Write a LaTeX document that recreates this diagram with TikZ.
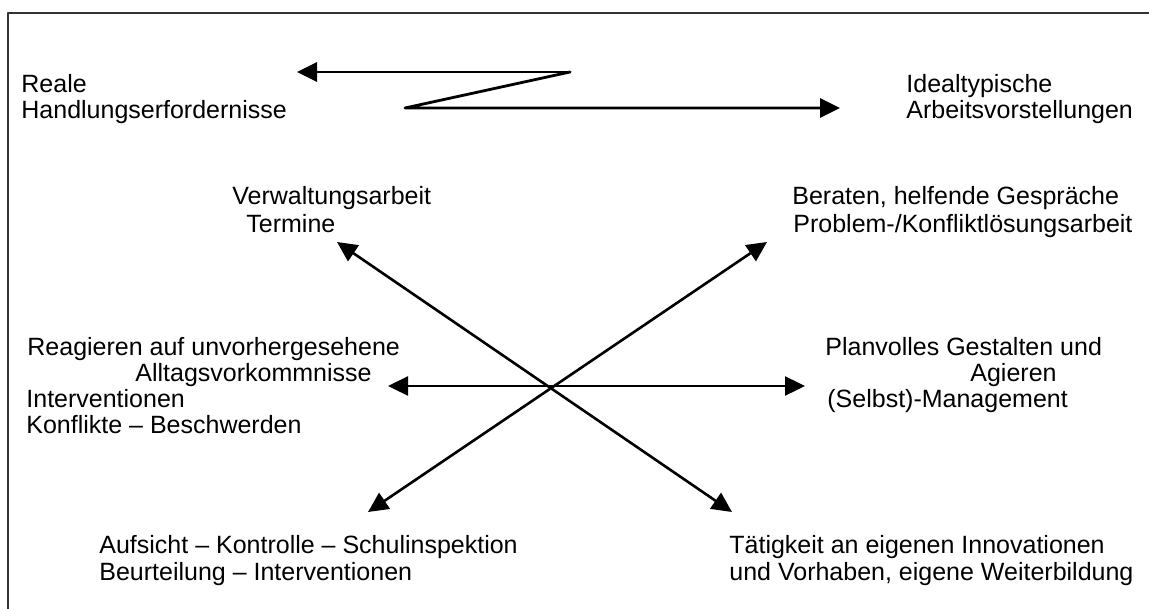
\documentclass[tikz,border=0pt]{standalone}
\usepackage{fontspec}
\setmainfont{Liberation Sans}
\usetikzlibrary{arrows.meta}

\tikzset{
  txt/.style={anchor=base west, inner sep=0pt, font=\fontsize{12.5}{14}\selectfont},
  pfeil/.style={-{Triangle[length=10pt, width=9.5pt]}, line width=1.4pt},
  doppelpfeil/.style={{Triangle[length=10pt, width=9.5pt]}-{Triangle[length=10pt, width=9.5pt]}, line width=1.3pt}
}

\begin{document}
\begin{tikzpicture}[line cap=round, line join=round, x=0.5pt, y=-0.5pt]
\useasboundingbox (0,0) rectangle (1149,609);
\draw [color=black!80, line width=0.8pt] (8,609) -- (8,13) -- (1149,13);

\node [txt] (reale1) at (21,93) {Reale};
\node [txt] (reale2) at (21,119) {Handlungserfordernisse};
\node [txt] (ideal1) at (906,93) {Idealtypische};
\node [txt] (ideal2) at (906,119) {Arbeitsvorstellungen};

\node [txt] (verw1) at (232,205) {Verwaltungsarbeit};
\node [txt] (verw2) at (246,233) {Termine};
\node [txt] (berat1) at (792,205) {Beraten, helfende Gespräche};
\node [txt] (berat2) at (793,233) {Problem-/Konfliktlösungsarbeit};

\node [txt] (reag1) at (27,355) {Reagieren auf unvorhergesehene};
\node [txt] (reag2) at (135,381) {Alltagsvorkommnisse};
\node [txt] (reag3) at (26,407) {Interventionen};
\node [txt] (reag4) at (26,433) {Konflikte -- Beschwerden};
\node [txt] (plan1) at (825,355) {Planvolles Gestalten und};
\node [txt] (plan2) at (970,381) {Agieren};
\node [txt] (plan3) at (827,407) {(Selbst)-Management};

\node [txt] (aufs1) at (99,553) {Aufsicht -- Kontrolle -- Schulinspektion};
\node [txt] (aufs2) at (99,580) {Beurteilung -- Interventionen};
\node [txt] (tat1) at (729,553) {Tätigkeit an eigenen Innovationen};
\node [txt] (tat2) at (729,580) {und Vorhaben, eigene Weiterbildung};

\coordinate (zStart) at (570,72);
\coordinate (zLinks) at (297,72);
\coordinate (zKnick) at (405,108);
\coordinate (zRechts) at (840,108);
\draw [pfeil] (zStart) -- (zLinks);
\draw [pfeil] (zStart) -- (zKnick) -- (zRechts);

\coordinate (pVerw) at (337,242);
\coordinate (pTat) at (732,512);
\coordinate (pBerat) at (767,242);
\coordinate (pAufs) at (368,512);
\coordinate (pReag) at (388,386);
\coordinate (pPlan) at (805,386);
\draw [doppelpfeil] (pVerw) -- (pTat);
\draw [doppelpfeil] (pBerat) -- (pAufs);
\draw [doppelpfeil, line width=1.2pt] (pReag) -- (pPlan);
\end{tikzpicture}
\end{document}
